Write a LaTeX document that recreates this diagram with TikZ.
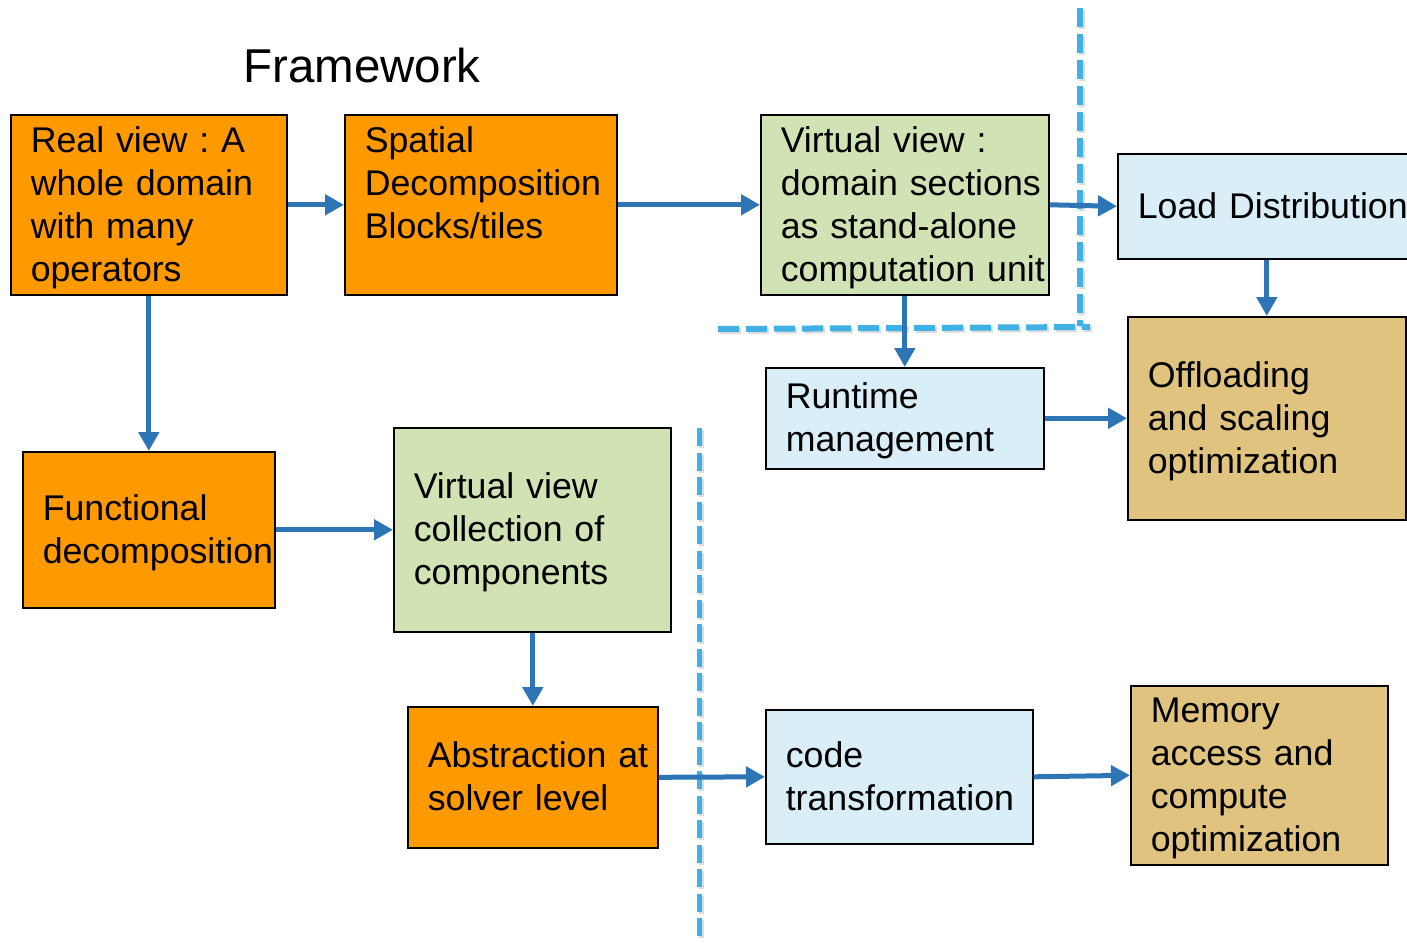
\documentclass[tikz,border=0pt]{standalone}
\usepackage{fontspec}
\setmainfont{Liberation Sans}
\usetikzlibrary{arrows.meta,calc}

\definecolor{boxorange}{HTML}{FF9900}
\definecolor{boxgreen}{HTML}{D1E3B4}
\definecolor{boxblue}{HTML}{DAEEF8}
\definecolor{boxtan}{HTML}{DFC37E}
\definecolor{arrowblue}{HTML}{2E75B6}
\definecolor{sepblue}{HTML}{41B0E4}

% box text: lines set flush left, 20pt in from the box edge
\newcommand{\boxtext}[1]{\frenchspacing\hspace*{20pt}%
  \begin{tabular}{@{}l@{}}\rule{0pt}{37pt}#1\end{tabular}}

\tikzset{
  box/.style={draw=black, line width=1.6pt, rectangle, anchor=north west,
    inner xsep=0pt, inner ysep=0pt, align=left,
    font=\fontsize{35.7}{43}\selectfont},
  orangebox/.style={box, fill=boxorange},
  greenbox/.style={box, fill=boxgreen},
  bluebox/.style={box, fill=boxblue},
  tanbox/.style={box, fill=boxtan},
  flow/.style={draw=arrowblue, line width=5pt,
    -{Triangle[length=19pt,width=20pt]}},
  sepline/.style={draw=sepblue, line width=6pt},
  sepshadow/.style={draw=black!45, line width=6pt, opacity=0.3},
}

\begin{document}
\begin{tikzpicture}[x=1pt,y=-1pt]
  \useasboundingbox (0,0) rectangle (1407,942);
  \clip (0,0) rectangle (1407,942);
  \fill[white] (0,0) rectangle (1407,942);

  % title
  \node[anchor=west, inner sep=0pt, font=\fontsize{47.5}{54}\selectfont]
    (title) at (243,66) {Framework};

  % boxes: top-left corner, width, height
  \node[orangebox, text width=276pt, minimum height=180pt] (real) at (10,114)
    {\boxtext{Real view : A\\whole domain\\with many\\operators}};
  \node[orangebox, text width=272pt, minimum height=180pt] (spatial) at (344,114)
    {\boxtext{Spatial\\Decomposition\\Blocks/tiles\\\strut}};
  \node[greenbox, text width=288pt, minimum height=180pt] (vdomain) at (760,114)
    {\boxtext{Virtual view :\\domain sections\\as stand-alone\\computation unit}};
  \node[bluebox, text width=310pt, minimum height=105pt] (load) at (1117,153)
    {\boxtext{Load Distribution}};
  \node[tanbox, text width=278pt, minimum height=203pt] (offload) at (1127,316)
    {\boxtext{Offloading\\and scaling\\optimization}};
  \node[bluebox, text width=278pt, minimum height=101pt] (runtime) at (765,367)
    {\boxtext{Runtime\\management}};
  \node[orangebox, text width=252pt, minimum height=156pt] (func) at (22,451)
    {\boxtext{Functional\\decomposition}};
  \node[greenbox, text width=277pt, minimum height=204pt] (vcomp) at (393,427)
    {\boxtext{Virtual view\\collection of\\components}};
  \node[orangebox, text width=250pt, minimum height=141pt] (abstr) at (407,706)
    {\boxtext{Abstraction at\\solver level}};
  \node[bluebox, text width=267pt, minimum height=134pt] (code) at (765,709)
    {\boxtext{code\\transformation}};
  \node[tanbox, text width=257pt, minimum height=179pt] (memory) at (1130,685)
    {\boxtext{Memory\\access and\\compute\\optimization}};

  % separators
  \draw[sepshadow, dash pattern=on 19pt off 7pt] (1082,10) -- (1082,328);
  \draw[sepshadow, dash pattern=on 21pt off 7pt] (720,331) -- (1092,329);
  \draw[sepline, dash pattern=on 19pt off 7pt] (1080,8) -- (1080,326);
  \draw[sepline, dash pattern=on 21pt off 7pt] (718,329) -- (1090,327);
  \draw[sepshadow, line width=5pt, dash pattern=on 18pt off 6.5pt] (701,430) -- (701,942);
  \draw[sepline, line width=5pt, dash pattern=on 18pt off 6.5pt] (699,428) -- (699,942);

  % connectors
  \draw[flow] (real.east) -- (spatial.west);
  \draw[flow] (spatial.east) -- (vdomain.west);
  \draw[flow] (vdomain.east) -- (load.west);
  \draw[flow] (vdomain.south) -- (runtime.north);
  \draw[flow] (load.south -| offload.north) -- (offload.north);
  \draw[flow] (runtime.east) -- (offload.west);
  \draw[flow] (real.south -| func.north) -- (func.north);
  \draw[flow] (func.east) -- (vcomp.west);
  \draw[flow] (vcomp.south -| abstr.north) -- (abstr.north);
  \draw[flow] (abstr.east) -- (code.west);
  \draw[flow] (code.east) -- (memory.west);
\end{tikzpicture}
\end{document}
